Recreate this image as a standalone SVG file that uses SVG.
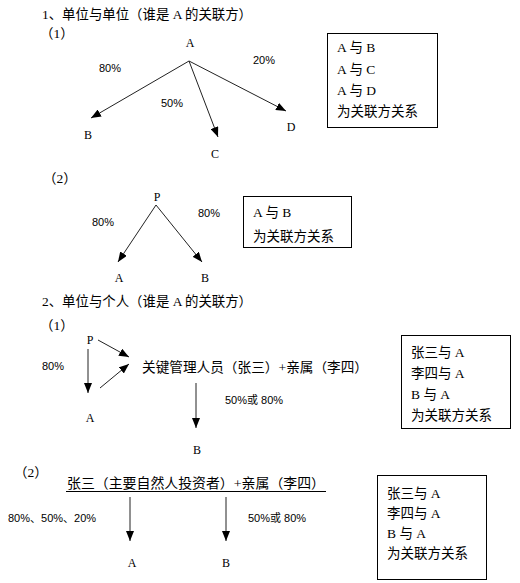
<svg xmlns="http://www.w3.org/2000/svg" width="520" height="583" viewBox="0 0 520 583">
<defs>
<style>
.cn{font-family:"Liberation Serif","Noto Sans CJK SC",serif;font-size:13.5px;fill:#000}
.lt{font-family:"Liberation Serif","Noto Sans CJK SC",serif;font-size:12px;fill:#000}
.pc{font-family:"Liberation Sans","Noto Sans CJK SC",sans-serif;font-size:11px;fill:#000}
.ln{stroke:#222;stroke-width:1;fill:none;marker-end:url(#ah)}
.box{fill:#fff;stroke:#000;stroke-width:1}
</style>
<marker id="ah" markerUnits="userSpaceOnUse" markerWidth="10" markerHeight="8" refX="10" refY="4" orient="auto">
<path d="M0,0 L10,4 L0,8 z" fill="#000"/>
</marker>
</defs>

<g id="titles">
<text class="cn" x="42" y="19" textLength="210" lengthAdjust="spacingAndGlyphs">1、单位与单位（谁是 A 的关联方）</text>
<text class="cn" x="40" y="38">（1）</text>
<text class="cn" x="43" y="183">（2）</text>
<text class="cn" x="42" y="306" textLength="210" lengthAdjust="spacingAndGlyphs">2、单位与个人（谁是 A 的关联方）</text>
<text class="cn" x="40" y="330">（1）</text>
<text class="cn" x="14" y="477">（2）</text>
</g>

<g id="connectors">
<line class="ln" x1="189" y1="61" x2="91" y2="118"/>
<line class="ln" x1="189" y1="61" x2="218" y2="137"/>
<line class="ln" x1="189" y1="61" x2="286" y2="111"/>
<line class="ln" x1="156" y1="205" x2="118" y2="262"/>
<line class="ln" x1="156" y1="205" x2="202" y2="262"/>
<line class="ln" x1="98" y1="340" x2="129" y2="357"/>
<line class="ln" x1="100" y1="388" x2="129" y2="364"/>
<line class="ln" x1="88" y1="349" x2="88" y2="393"/>
<line class="ln" x1="196" y1="383" x2="196" y2="428"/>
<line class="ln" x1="130" y1="497" x2="130" y2="541"/>
<line class="ln" x1="226" y1="497" x2="226" y2="541"/>
</g>

<g id="s1a">
<g id="n1A"><text class="lt" x="190" y="47" text-anchor="middle">A</text></g>
<g id="n1B"><text class="lt" x="88" y="139" text-anchor="middle">B</text></g>
<g id="n1C"><text class="lt" x="215" y="158" text-anchor="middle">C</text></g>
<g id="n1D"><text class="lt" x="291" y="131" text-anchor="middle">D</text></g>
<text class="pc" x="99" y="72">80%</text>
<text class="pc" x="161" y="107">50%</text>
<text class="pc" x="253" y="64">20%</text>
<g id="box1">
<rect class="box" x="327.500" y="33.500" width="110" height="94"/>
<text class="cn" x="337" y="52">A 与 B</text>
<text class="cn" x="337" y="74">A 与 C</text>
<text class="cn" x="337" y="95">A 与 D</text>
<text class="cn" x="337" y="116">为关联方关系</text>
</g>
</g>

<g id="s1b">
<g id="n2P"><text class="lt" x="157" y="201" text-anchor="middle">P</text></g>
<g id="n2A"><text class="lt" x="119" y="282" text-anchor="middle">A</text></g>
<g id="n2B"><text class="lt" x="205" y="282" text-anchor="middle">B</text></g>
<text class="pc" x="92" y="226">80%</text>
<text class="pc" x="198" y="217">80%</text>
<g id="box2">
<rect class="box" x="243.500" y="196.500" width="108" height="51"/>
<text class="cn" x="253" y="217">A 与 B</text>
<text class="cn" x="253" y="241">为关联方关系</text>
</g>
</g>

<g id="s2a">
<g id="n3P"><text class="lt" x="90" y="344" text-anchor="middle">P</text></g>
<g id="n3A"><text class="lt" x="90" y="422" text-anchor="middle">A</text></g>
<g id="n3K"><text class="cn" x="142" y="372" textLength="226" lengthAdjust="spacingAndGlyphs">关键管理人员（张三）+亲属（李四）</text></g>
<g id="n3B"><text class="lt" x="197" y="454" text-anchor="middle">B</text></g>
<text class="pc" x="42" y="370">80%</text>
<text class="pc" x="225" y="404">50%或 80%</text>
<g id="box3">
<rect class="box" x="401.500" y="335.500" width="109" height="93"/>
<text class="cn" x="411" y="357">张三与 A</text>
<text class="cn" x="411" y="378">李四与 A</text>
<text class="cn" x="411" y="399">B 与 A</text>
<text class="cn" x="411" y="420">为关联方关系</text>
</g>
</g>

<g id="s2b">
<g id="n4Z">
<text class="cn" x="67" y="488" textLength="258" lengthAdjust="spacingAndGlyphs">张三（主要自然人投资者）+亲属（李四）</text>
<line x1="66" y1="491.500" x2="326" y2="491.500" stroke="#000" stroke-width="1"/>
</g>
<g id="n4A"><text class="lt" x="132" y="567" text-anchor="middle">A</text></g>
<g id="n4B"><text class="lt" x="226" y="567" text-anchor="middle">B</text></g>
<text class="pc" x="8" y="522">80%、50%、20%</text>
<text class="pc" x="248" y="522">50%或 80%</text>
<g id="box4">
<rect class="box" x="377.500" y="475.500" width="109" height="104"/>
<text class="cn" x="387" y="498">张三与 A</text>
<text class="cn" x="387" y="518">李四与 A</text>
<text class="cn" x="387" y="538">B 与 A</text>
<text class="cn" x="387" y="558">为关联方关系</text>
</g>
</g>
</svg>
